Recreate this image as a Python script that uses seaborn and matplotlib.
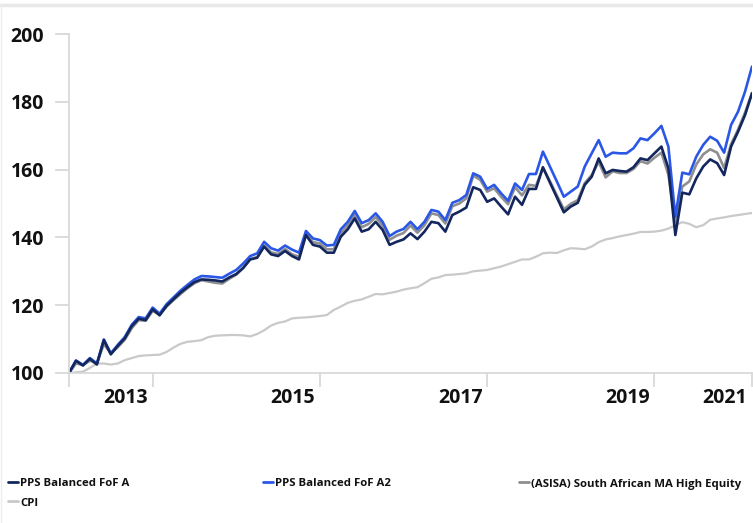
import seaborn as sns
import matplotlib.pyplot as plt
import pandas as pd
from matplotlib.lines import Line2D
from matplotlib.transforms import ScaledTranslation

# monthly index values (start = 100)
fund_a = [100, 103.6, 102.2, 104.2, 102.5, 109.7, 105.5, 108, 110.2, 113.8,
          116, 115.6, 118.8, 117, 119.8, 121.8, 123.7, 125.3, 126.8, 127.6,
          127.5, 127.3, 127, 128.2, 129.2, 131, 133.5, 134, 137.3, 135,
          134.5, 136, 134.5, 133.5, 140.7, 137.8, 137.3, 135.5, 135.5, 140.2,
          142.4, 145.6, 141.7, 142.4, 144.6, 142.2, 137.8, 138.7, 139.4, 141.2,
          139.5, 141.7, 144.6, 144.2, 141.7, 146.6, 147.6, 148.8, 154.8, 154,
          150.5, 151.5, 149.1, 146.8, 152, 149.6, 154.3, 154.3, 160.7, 156.2,
          151.8, 147.4, 149.1, 150.2, 155.5, 157.9, 163.3, 158.9, 159.9, 159.6,
          159.4, 160.7, 163.3, 162.8, 164.8, 166.8, 160.4, 140.7, 153.2, 152.7,
          157.4, 160.9, 163, 161.9, 158.4, 166.8, 171.2, 176.1, 182.5]

fund_a2 = [100, 103.7, 102.4, 104.4, 102.8, 109.9, 105.8, 108.3, 110.6, 114.2,
           116.5, 116.1, 119.3, 117.5, 120.3, 122.3, 124.3, 126, 127.6, 128.6,
           128.5, 128.3, 128.1, 129.3, 130.4, 132.3, 134.5, 135.3, 138.7, 136.8,
           136.1, 137.6, 136.4, 135.5, 141.9, 139.7, 139.2, 137.6, 137.8, 142.4,
           144.6, 147.8, 144.2, 145.1, 147.1, 144.6, 140.4, 141.7, 142.5, 144.6,
           142.4, 144.6, 148.1, 147.6, 145.1, 150.2, 151, 152.5, 158.9, 157.9,
           154.3, 155.5, 153, 150.8, 155.9, 154, 158.7, 158.7, 165.3, 160.9,
           156.5, 152, 153.5, 155, 160.9, 164.8, 168.7, 163.8, 165, 164.8,
           164.8, 166.3, 169.2, 168.7, 170.7, 172.9, 166.8, 146.1, 159.1, 158.6,
           163.8, 167.3, 169.7, 168.5, 165, 173.2, 177.1, 183, 190.4]

asisa = [100, 102.8, 102.4, 103.6, 102.9, 108.5, 105.8, 107.6, 109.8, 113.2,
         115.6, 115.4, 118.3, 117.3, 119.6, 121.5, 123.3, 125, 126.5, 127.4,
         127, 126.6, 126.4, 127.8, 129, 131, 133.6, 134.2, 137.6, 135.6,
         135.1, 136.6, 135, 134.3, 141, 138.6, 138.2, 136.5, 136.5, 141.3,
         143.5, 146.8, 143, 144, 146, 143.5, 139.3, 140.5, 141.3, 143.5,
         141.4, 143.6, 147.1, 146.6, 144.1, 149.2, 150, 151.5, 158.2, 157,
         153.5, 154.5, 152, 149.8, 154.8, 152.4, 155.5, 155.2, 160.5, 156.6,
         152.4, 148.3, 149.9, 151, 156, 158.4, 162.3, 157.7, 159.5, 159,
         159, 160.2, 162.5, 161.8, 163.5, 165, 158.5, 144.5, 155, 156.5,
         161.5, 164.5, 166, 165, 160.5, 167.5, 171.8, 176.8, 182.6]

cpi = [100, 100.2, 100.4, 101.5, 102.8, 102.8, 102.5, 102.8, 103.8, 104.4,
       105, 105.2, 105.3, 105.4, 106.2, 107.5, 108.6, 109.2, 109.4, 109.7,
       110.6, 111, 111.1, 111.2, 111.2, 111.1, 110.8, 111.5, 112.6, 114,
       114.8, 115.2, 116.1, 116.3, 116.4, 116.6, 116.8, 117.1, 118.6, 119.6,
       120.7, 121.3, 121.7, 122.5, 123.3, 123.2, 123.6, 124, 124.6, 125,
       125.3, 126.5, 127.8, 128.2, 128.9, 129, 129.2, 129.4, 130, 130.2,
       130.4, 130.9, 131.4, 132.1, 132.8, 133.5, 133.5, 134.3, 135.3, 135.5,
       135.4, 136.2, 136.8, 136.7, 136.5, 137.3, 138.6, 139.4, 139.8, 140.3,
       140.7, 141.1, 141.6, 141.6, 141.7, 142, 142.6, 143.6, 144.5, 144,
       143, 143.6, 145.2, 145.6, 145.9, 146.3, 146.6, 146.9, 147.2]

series_names = ["PPS Balanced FoF A", "PPS Balanced FoF A2",
                "(ASISA) South African MA High Equity", "CPI"]
year_ticks = [12, 36, 60, 84, 98]
year_labels = ["2013", "2015", "2017", "2019", "2021"]

colors = {
    "PPS Balanced FoF A": "#13275e",
    "PPS Balanced FoF A2": "#2a57e6",
    "(ASISA) South African MA High Equity": "#8f8f8f",
    "CPI": "#c9c9c9",
}

rows = []
for name, vals in zip(series_names, [fund_a, fund_a2, asisa, cpi]):
    for i, v in enumerate(vals):
        rows.append({"month": i, "value": v, "series": name})
df = pd.DataFrame(rows)

sns.set_theme(style="white")
plt.rcParams['font.family'] = ['Open Sans', 'DejaVu Sans']

fig = plt.figure(figsize=(7.53, 5.23), dpi=100)
ax = fig.add_axes([69 / 753, 150 / 523, 683 / 753, 339 / 523])

# draw order: CPI at the back, fund A on top
draw_order = ["CPI", "(ASISA) South African MA High Equity",
              "PPS Balanced FoF A2", "PPS Balanced FoF A"]
for name in draw_order:
    sub = df[df["series"] == name]
    sns.lineplot(data=sub, x="month", y="value", color=colors[name],
                 linewidth=1.6 if name == "CPI" else 1.9, ax=ax, legend=False)

ax.set_xlim(0, 98)
ax.set_ylim(100, 200)
ax.set_xlabel("")
ax.set_ylabel("")

for s in ["top", "right"]:
    ax.spines[s].set_visible(False)
for s in ["left", "bottom"]:
    ax.spines[s].set_color("#d9d9d9")
    ax.spines[s].set_linewidth(1.3)

ax.set_yticks([100, 120, 140, 160, 180, 200])
ax.set_xticks([0] + year_ticks)
ax.set_xticklabels([""] + year_labels)
ax.tick_params(axis="both", which="major", length=10, width=1.3,
               color="#d9d9d9", labelsize=14, labelcolor="#111111",
               bottom=True, left=True)
ax.tick_params(axis="y", pad=8)
ax.tick_params(axis="x", pad=1)
for lab in ax.get_xticklabels() + ax.get_yticklabels():
    lab.set_fontweight("bold")
shift = ScaledTranslation(-27 / 100, 0, fig.dpi_scale_trans)
for lab in ax.get_xticklabels():
    lab.set_transform(lab.get_transform() + shift)

# legend laid out like the original: three entries on the first row, CPI below
legend_pos = [(8, 484), (263, 484), (519, 484), (8, 503)]
for name, (px, py) in zip(series_names, legend_pos):
    yf = 1 - py / 523
    fig.add_artist(Line2D([px / 753, (px + 10) / 753], [yf + 2 / 523, yf + 2 / 523],
                          color=colors[name], linewidth=2, transform=fig.transFigure))
    fig.text((px + 12) / 753, yf, name, fontsize=8.2, fontweight="bold",
             color="#111111", va="center", ha="left")

# light frame line along the top of the card
fig.add_artist(Line2D([0, 1], [1 - 4.5 / 523, 1 - 4.5 / 523], color="#e8e8e8",
                      linewidth=2.5, transform=fig.transFigure))
fig.add_artist(Line2D([0.5 / 753, 0.5 / 753], [0, 1 - 4.5 / 523], color="#eeeeee",
                      linewidth=1, transform=fig.transFigure))

fig.savefig("out.png", dpi=100)
